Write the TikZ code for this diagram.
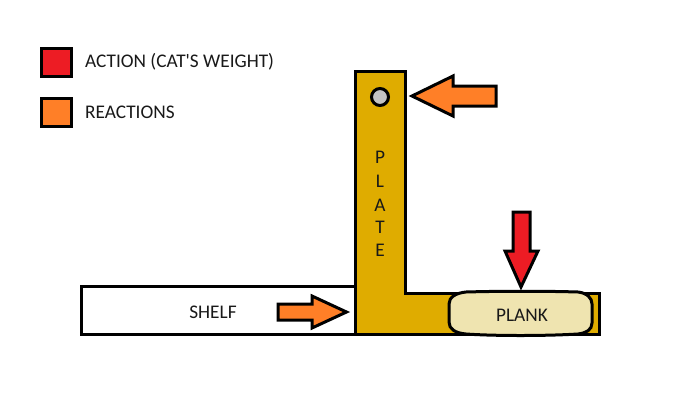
\documentclass[tikz,border=0pt]{standalone}
\usepackage{fontspec}
\newfontfamily\lblfont{Carlito}
\definecolor{actred}{HTML}{ED1C24}
\definecolor{reactorange}{HTML}{FF7F27}
\definecolor{plategold}{HTML}{DFAC00}
\definecolor{plankcream}{HTML}{EFE4B0}
\definecolor{pingrey}{HTML}{C3C3C3}
\tikzset{
  shapeline/.style={draw=black,line width=3pt,line join=miter},
  thinshape/.style={draw=black,line width=3pt,line join=miter,miter limit=10},
  lbl/.style={inner sep=0pt,font=\lblfont\fontsize{19.3}{22}\selectfont,text=black!90},
}
\begin{document}
\begin{tikzpicture}[x=1pt,y=-1pt]
\useasboundingbox (0,0) rectangle (698,407);
\fill[white] (0,0) rectangle (698,407);
% legend
\draw[shapeline,fill=actred] (41.5,48) rectangle (71,76);
\draw[shapeline,fill=reactorange] (41.5,98) rectangle (71,126);
\node[lbl,anchor=west] (legact) at (85,62) {ACTION (CAT'S WEIGHT)};
\node[lbl,anchor=west] (legreact) at (85,112) {REACTIONS};
% shelf
\draw[shapeline,fill=white] (81.5,286.5) rectangle (355,334);
\node[lbl] (shelf) at (213,312) {SHELF};
% plate
\draw[shapeline,fill=plategold] (355.5,71.5) -- (405,71.5) -- (405,293) -- (599,293) -- (599,334) -- (355.5,334) -- cycle;
\draw[shapeline,fill=pingrey] (380,97) circle (8.5);
\foreach \n/\l/\y in {p/P/157,l/L/181,a/A/205,t/T/227,e/E/250}
  \node[lbl] (plate\n) at (380,\y) {\l};
% plank
\draw[shapeline,fill=plankcream]
  (466,292) .. controls (500,291) and (545,291) .. (578,292)
  .. controls (587,293) and (592,298) .. (592,304)
  -- (592,323)
  .. controls (592,330) and (586,333) .. (578,334)
  .. controls (545,336) and (495,336) .. (466,334)
  .. controls (455,333) and (449,329) .. (449,322)
  -- (449,304)
  .. controls (449,297) and (456,293) .. (466,292) -- cycle;
\node[lbl] (plank) at (522,315) {PLANK};
% arrows
\draw[thinshape,fill=reactorange] (412,96) -- (453,76) -- (453,86) -- (496,86) -- (496,106) -- (453,106) -- (453,116) -- cycle;
\draw[thinshape,fill=reactorange] (346.5,312) -- (312,296) -- (312,304) -- (278,304) -- (278,320) -- (312,320) -- (312,328) -- cycle;
\draw[thinshape,fill=actred] (521,287) -- (505,251) -- (513,251) -- (513,212) -- (530,212) -- (530,251) -- (538,251) -- cycle;
\end{tikzpicture}
\end{document}
